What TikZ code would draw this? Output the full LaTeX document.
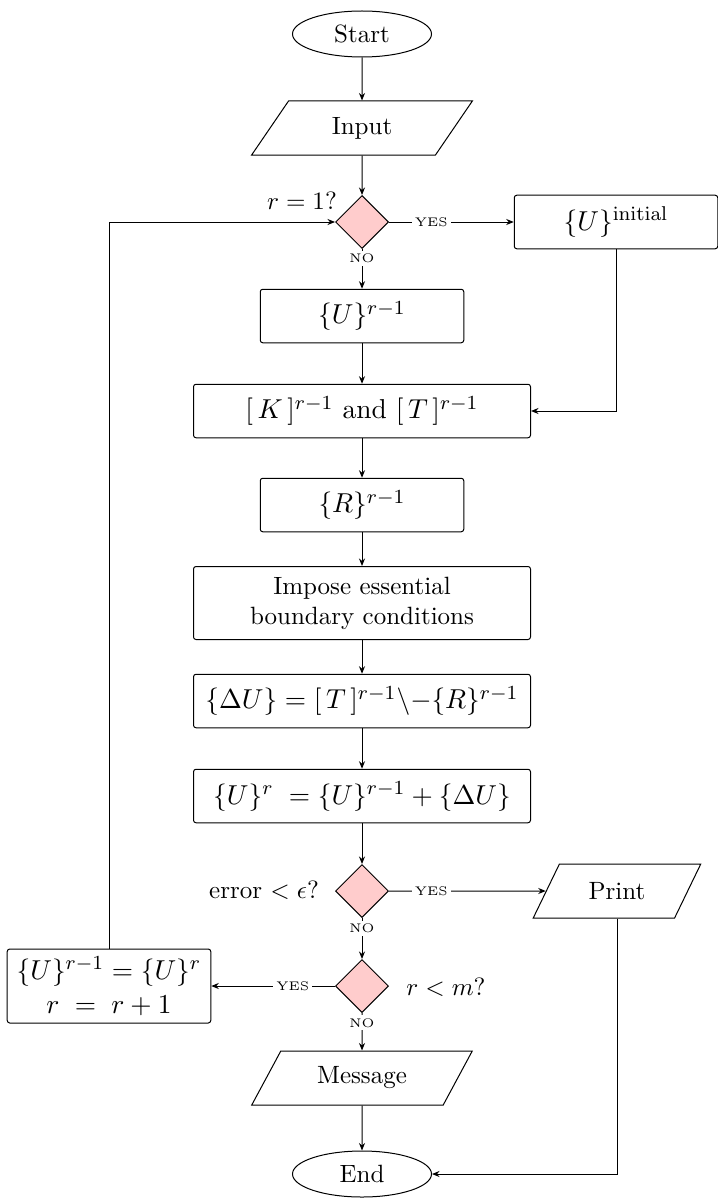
\documentclass[tikz,border=0pt]{standalone}
\usetikzlibrary{shapes.geometric,arrows.meta}
\begin{document}
\begin{tikzpicture}[x=0.4pt,y=-0.4pt,
  every node/.style={line width=0.4pt},
  proc/.style={draw, rectangle, rounded corners=1pt, minimum width=81.4pt, minimum height=21.4pt, inner sep=2pt, align=center, font=\fontsize{10.95}{13.6}\selectfont},
  wide/.style={proc, minimum width=134.8pt},
  term/.style={draw, ellipse, minimum width=55.6pt, minimum height=18.4pt, inner sep=0pt},
  io/.style={draw, trapezium, trapezium left angle=61, trapezium right angle=119, trapezium stretches=true, minimum height=21.6pt, inner sep=2pt},
  dec/.style={draw, diamond, fill=red!20, minimum width=21.2pt, minimum height=21.2pt, inner sep=0pt},
  arr/.style={-{Stealth[length=3pt,width=2.4pt]}},
  lbl/.style={fill=white, font=\tiny, inner sep=1.2pt},
  cond/.style={inner sep=0pt}]
\useasboundingbox (0,0) rectangle (718,1199);

\node[term] (start) at (362,34) {Start};
\node[io, minimum width=88.4pt] (input) at (362,128) {Input};
\node[dec] (d1) at (362,222) {};
\node[cond] (lr1) at (302,201) {$r=1$?};
\node[proc] (uinit) at (616,222) {$\{U\}^{\mathrm{initial}}$};
\node[proc] (u1) at (362,316) {$\{U\}^{r-1}$};
\node[wide] (kt) at (362,411) {$[\,K\,]^{r-1}$ and $[\,T\,]^{r-1}$};
\node[proc] (rr) at (362,505) {$\{R\}^{r-1}$};
\node[wide, minimum height=29.2pt, font=\normalsize] (imp) at (362,603) {Impose essential\\boundary conditions};
\node[wide] (du) at (362,701) {$\{\Delta U\}=[\,T\,]^{r-1}\backslash{-}\{R\}^{r-1}$};
\node[wide] (ur) at (362,796) {$\{U\}^{r}\;=\{U\}^{r-1}+\{\Delta U\}$};
\node[dec] (d2) at (362,891) {};
\node[cond] (lerr) at (264,890) {error $<\epsilon$?};
\node[io, minimum width=67.2pt] (print) at (617,891) {Print};
\node[dec] (d3) at (362,986) {};
\node[cond] (lrm) at (446,987) {$r<m$?};
\node[proc, minimum height=29.6pt] (upd) at (109,986) {$\{U\}^{r-1}=\{U\}^{r}$\\$r\;=\;r+1$};
\node[io, minimum width=88.4pt] (msg) at (362,1078) {Message};
\node[term] (end) at (362,1174) {End};

\draw[arr] (start) -- (input);
\draw[arr] (input) -- (d1);
\draw[arr] (d1) -- node[lbl, pos=0.34] {YES} (uinit);
\draw[arr] (d1) -- node[lbl, pos=0.24] {NO} (u1);
\draw[arr] (uinit.south) |- (kt.east);
\draw[arr] (u1) -- (kt);
\draw[arr] (kt) -- (rr);
\draw[arr] (rr) -- (imp);
\draw[arr] (imp) -- (du);
\draw[arr] (du) -- (ur);
\draw[arr] (ur) -- (d2);
\draw[arr] (d2) -- node[lbl, pos=0.27] {YES} (print);
\draw[arr] (d2) -- node[lbl, pos=0.26] {NO} (d3);
\draw[arr] (d3) -- node[lbl, pos=0.34] {YES} (upd);
\draw[arr] (d3) -- node[lbl, pos=0.26] {NO} (msg);
\draw[arr] (upd.north) |- (d1.west);
\draw[arr] (msg) -- (end);
\draw[arr] (print.south) |- (end.east);
\end{tikzpicture}
\end{document}
